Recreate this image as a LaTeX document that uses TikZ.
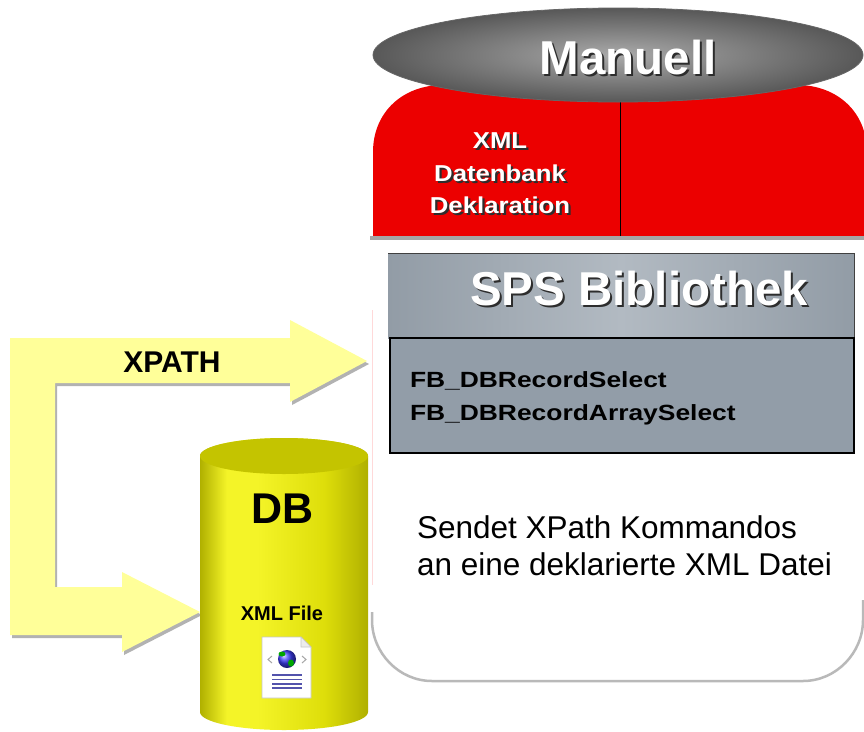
\documentclass[tikz,border=0pt]{standalone}
\usepackage{fontspec}
\setmainfont{Liberation Sans}
\usepackage{graphicx}

\definecolor{declred}{RGB}{236,0,0}
\definecolor{capLight}{RGB}{170,170,170}
\definecolor{capDark}{RGB}{88,88,88}
\definecolor{hdrA}{RGB}{146,156,166}
\definecolor{hdrB}{RGB}{178,186,194}
\definecolor{fbbody}{RGB}{146,157,168}
\definecolor{arrowyel}{RGB}{255,255,153}
\definecolor{cylDark}{RGB}{176,176,0}
\definecolor{cylLight}{RGB}{244,244,40}
\definecolor{cylMid}{RGB}{222,222,10}
\definecolor{cylTop}{RGB}{196,196,0}
\definecolor{embshade}{RGB}{45,45,45}

% left-to-right shading of the cylinder body, highlight left of centre
\pgfdeclarehorizontalshading{cylbody}{100bp}{color(0bp)=(cylDark); color(25bp)=(cylDark); color(33bp)=(cylLight); color(42bp)=(cylLight); color(62bp)=(cylMid); color(75bp)=(cylDark); color(100bp)=(cylDark)}

\newcommand{\setfsz}[1]{\fontsize{#1}{#1}\selectfont}
% white lettering with a dark drop shadow, set as one box
\newcommand{\embtext}[1]{\makebox[0pt][l]{\hspace{2pt}\raisebox{-2pt}{\color{embshade}#1}}{\color{white}#1}}
% outline of the L-shaped XPATH arrow
\newcommand{\xpathoutline}{(10,338) -- (290,338) -- (290,320) -- (367,361) -- (290,402) -- (290,383) -- (55,383) -- (55,587) -- (122,587) -- (122,572) -- (200,612) -- (122,652) -- (122,635) -- (10,635) -- cycle}

\tikzset{
  every node/.style={inner sep=0pt, outer sep=0pt},
  embossed/.style={font=\bfseries},
  plainlabel/.style={text=black},
  boldlabel/.style={text=black, font=\bfseries},
}

\begin{document}
\begin{tikzpicture}[x=1pt, y=-1pt]
\useasboundingbox (0,0) rectangle (864,731);
\fill[white] (0,0) rectangle (864,731);

% white panel: faint left edge and shadowed rounded bottom
\draw[red!15, line width=0.8] (372,310) -- (372,585);
\draw[gray!55, line width=2.5] (372,612) -- (372,620) .. controls (372,653) and (399,681) .. (432,681) -- (803,681) .. controls (836,681) and (863,653) .. (863,620) -- (863,600);

% red declaration block
\fill[declred] (373,238) -- (373,152) .. controls (373,112) and (403,85) .. (443,85) -- (797,85) .. controls (837,85) and (867,112) .. (867,152) -- (867,238) -- cycle;
\draw[black, line width=1] (620,95) -- (620,236);
\fill[gray!70] (370,236) rectangle (864,240);

% grey cap ellipse
\shade[inner color=capLight, outer color=capDark] (618,55) ellipse [x radius=245, y radius=47];
\draw[black!60, line width=0.8] (618,55) ellipse [x radius=245, y radius=47];

\node[embossed, anchor=base] (manuell) at (628,74) {\setfsz{47.5}\embtext{Manuell}};

\node[embossed, anchor=base] (declA) at (500,148) {\scalebox{1.12}[1]{\setfsz{23}\embtext{XML}}};
\node[embossed, anchor=base] (declB) at (500,181) {\scalebox{1.12}[1]{\setfsz{23}\embtext{Datenbank}}};
\node[embossed, anchor=base] (declC) at (500,213) {\scalebox{1.12}[1]{\setfsz{23}\embtext{Deklaration}}};

% SPS library box
\shade[left color=hdrA, right color=hdrA, middle color=hdrB] (388,253) rectangle (854,338);
\draw[black!75, line width=1] (388,253) -- (854,253) -- (854,338);
\fill[fbbody] (390,338) rectangle (854,453);
\draw[black, line width=1.2] (390,338) rectangle (854,453);

\node[embossed, anchor=base] (sps) at (639,305) {\setfsz{47.5}\embtext{SPS Bibliothek}};

\node[boldlabel, anchor=base west] (fbA) at (410,387) {\scalebox{1.2}[1]{\setfsz{22}FB\_DBRecordSelect}};
\node[boldlabel, anchor=base west] (fbB) at (410,420) {\scalebox{1.2}[1]{\setfsz{22}FB\_DBRecordArraySelect}};

\node[plainlabel, anchor=base west] (sendetA) at (417,538) {\setfsz{31.5}Sendet XPath Kommandos};
\node[plainlabel, anchor=base west] (sendetB) at (417,575) {\setfsz{31.5}an eine deklarierte XML Datei};

% XPATH arrow with drop shadow
\begin{scope}[shift={(2,3)}]
  \fill[gray!60] \xpathoutline;
\end{scope}
\fill[arrowyel] \xpathoutline;
\node[boldlabel, anchor=base] (xpath) at (172,372) {\setfsz{30}XPATH};

% database cylinder
\shade[shading=cylbody] (200,456) -- (200,712) .. controls (200,722) and (238,730) .. (284,730) .. controls (330,730) and (368,722) .. (368,712) -- (368,456) .. controls (368,446) and (330,438) .. (284,438) .. controls (238,438) and (200,446) .. (200,456) -- cycle;
\fill[cylTop] (284,456) ellipse [x radius=84, y radius=18];

\node[boldlabel, anchor=base] (db) at (283,523) {\setfsz{43}DB};
\node[boldlabel, anchor=base] (xmlfile) at (282,620) {\setfsz{20}XML File};

% XML file icon
\filldraw[fill=white, draw=gray!45, line width=0.8] (262,637) -- (301,637) -- (311,647) -- (311,698) -- (262,698) -- cycle;
\filldraw[fill=gray!15, draw=gray!45, line width=0.6] (301,637) -- (301,647) -- (311,647) -- cycle;
\shade[ball color=blue!75] (287,659) circle (9);
\fill[green!65!black] (282,654) ellipse [x radius=3.5, y radius=2.5];
\fill[green!65!black] (291,663) ellipse [x radius=3, y radius=3.5];
\draw[gray!70, line width=1] (272,656) -- (268,659.5) -- (272,663);
\draw[gray!70, line width=1] (302,656) -- (306,659.5) -- (302,663);
\foreach \yy in {675,679.5,684,688}{
  \draw[blue!35!gray, line width=1.2] (272,\yy) -- (302,\yy);
}
\end{tikzpicture}
\end{document}
